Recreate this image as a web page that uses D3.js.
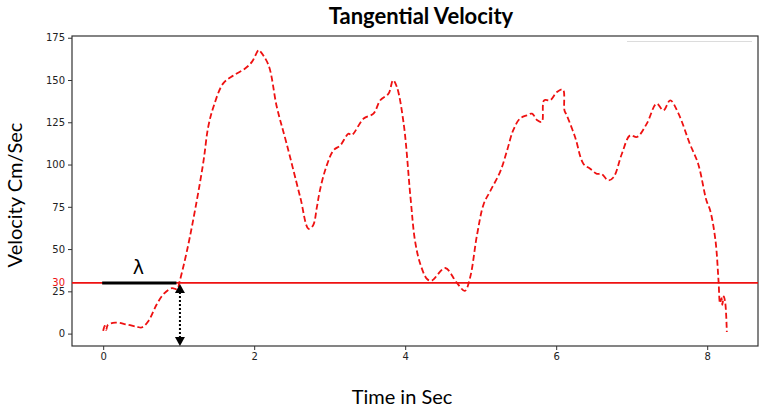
<!DOCTYPE html>
<html>
<head>
<meta charset="utf-8">
<script src="https://cdn.jsdelivr.net/npm/d3@7"></script>
<style>
  body { margin: 0; background: #fff; }
  svg { display: block; }
</style>
</head>
<body>
<svg id="chart" width="765" height="410"></svg>
<script>
// Data (time in s, velocity in cm/s)
const time = [0, 0.02, 0.04, 0.06, 0.16, 0.3, 0.45, 0.51, 0.6, 0.71, 0.8, 0.91, 0.98, 1.01,
  1.11, 1.24, 1.33, 1.39, 1.46, 1.59, 1.73, 1.88, 1.97, 2.06, 2.08, 2.19, 2.3, 2.43, 2.61,
  2.72, 2.78, 2.83, 2.87, 2.95, 3.05, 3.14, 3.25, 3.29, 3.45, 3.58, 3.67, 3.78, 3.84, 3.89,
  3.98, 4.07, 4.13, 4.2, 4.29, 4.35, 4.53, 4.68, 4.79, 4.86, 4.95, 5.04, 5.13, 5.26, 5.35,
  5.43, 5.52, 5.61, 5.68, 5.75, 5.81, 5.84, 5.92, 6.01, 6.09, 6.11, 6.14, 6.25, 6.36, 6.45,
  6.54, 6.6, 6.69, 6.76, 6.87, 6.98, 7.07, 7.2, 7.33, 7.42, 7.51, 7.62, 7.77, 7.88, 7.99,
  8.04, 8.11, 8.15, 8.17, 8.19, 8.2, 8.22, 8.24, 8.26];
const velocity = [1.6, 4.5, 2.2, 5, 6.5, 5.5, 4, 3.6, 7.5, 17.4, 23.4, 26.9, 26.3, 30.5,
  49, 78.7, 102.4, 122, 134, 148, 152.8, 156.8, 160.7, 167.7, 167, 158.8, 134, 112.3, 80.7,
  62, 64, 74.7, 84.6, 98, 108.4, 111.3, 118.3, 117.3, 127.2, 130.1, 138, 142, 149.9, 145.9,
  124.2, 80.7, 55, 41.2, 32.3, 31.3, 38.8, 30.3, 25.3, 33.2, 58, 76.7, 84.6, 96, 108.4,
  120.2, 127.2, 129.1, 130.1, 126.2, 125.2, 138, 138, 142.9, 144.4, 132, 129.1, 116.3, 100.5, 97.5,
  94.5, 94.5, 90.6, 92.5, 106.4, 117.3, 116.3, 124.2, 136, 132, 138, 130.1, 112.3, 100.5, 78.7,
  72.8, 55, 31.3, 18, 21, 17, 22, 18, 1];

const xTicks = [0, 2, 4, 6, 8];
const yTicks = [0, 25, 50, 75, 100, 125, 150, 175];
const threshold = 30;       // red reference line
const lambdaEnd = 1.01;     // time where curve crosses threshold

const data = time.map((t, i) => ({ t: t, v: velocity[i] }));

// Plot box
const box = { left: 72, right: 758, top: 36, bottom: 346 };

// matplotlib-like 5% margins around data
function padded(ext) {
  const m = (ext[1] - ext[0]) * 0.05;
  return [ext[0] - m, ext[1] + m];
}

const x = d3.scaleLinear()
  .domain(padded(d3.extent(time)))
  .range([box.left, box.right]);

const y = d3.scaleLinear()
  .domain(padded(d3.extent(velocity)))
  .range([box.bottom, box.top]);

const svg = d3.select("#chart");

// Title
svg.append("text")
  .attr("x", 421)
  .attr("y", 24)
  .attr("text-anchor", "middle")
  .attr("font-family", "Lato, 'Open Sans', sans-serif")
  .attr("font-weight", "bold")
  .attr("font-size", 22)
  .attr("fill", "#000")
  .text("Tangential Velocity");

// faint leftovers near the top
svg.append("line")
  .attr("x1", 627).attr("x2", 752)
  .attr("y1", 41.5).attr("y2", 41.5)
  .attr("stroke", "#dcdcdc")
  .attr("stroke-width", 1);

// Axes
const xAxis = svg.append("g")
  .attr("transform", `translate(0,${box.bottom})`)
  .call(d3.axisBottom(x).tickValues(xTicks).tickSize(4).tickPadding(3));

const yAxis = svg.append("g")
  .attr("transform", `translate(${box.left},0)`)
  .call(d3.axisLeft(y).tickValues(yTicks).tickSize(4).tickPadding(3));

[xAxis, yAxis].forEach(a => {
  a.select(".domain").remove();
  a.selectAll("line").attr("stroke", "#333");
  a.selectAll("text")
    .attr("font-family", "'DejaVu Sans', sans-serif")
    .attr("font-size", 10)
    .attr("fill", "#222");
});

// Frame (all four spines)
svg.append("rect")
  .attr("x", box.left)
  .attr("y", box.top)
  .attr("width", box.right - box.left)
  .attr("height", box.bottom - box.top)
  .attr("fill", "none")
  .attr("stroke", "#333")
  .attr("stroke-width", 1.2);

// Threshold line and its red tick label
svg.append("line")
  .attr("x1", box.left).attr("x2", box.right)
  .attr("y1", y(threshold)).attr("y2", y(threshold))
  .attr("stroke", "#ee1111")
  .attr("stroke-width", 1.8);

svg.append("text")
  .attr("x", box.left - 7)
  .attr("y", y(threshold))
  .attr("dy", "0.32em")
  .attr("text-anchor", "end")
  .attr("font-family", "'DejaVu Sans', sans-serif")
  .attr("font-size", 10)
  .attr("fill", "#ee1111")
  .text(threshold);

// Velocity curve
svg.append("path")
  .datum(data)
  .attr("fill", "none")
  .attr("stroke", "#ee1111")
  .attr("stroke-width", 1.8)
  .attr("stroke-dasharray", "6,3")
  .attr("d", d3.line()
    .x(d => x(d.t))
    .y(d => y(d.v))
    .curve(d3.curveCatmullRom.alpha(0.5)));

// Lambda segment
svg.append("line")
  .attr("x1", x(0) - 1).attr("x2", x(lambdaEnd) - 3)
  .attr("y1", y(threshold)).attr("y2", y(threshold))
  .attr("stroke", "#000")
  .attr("stroke-width", 3);

svg.append("text")
  .attr("x", x(lambdaEnd / 2) - 3)
  .attr("y", y(threshold) - 9)
  .attr("text-anchor", "middle")
  .attr("font-family", "'DejaVu Sans', sans-serif")
  .attr("font-size", 19)
  .attr("fill", "#000")
  .text("λ");

// Dotted double arrow from threshold down to the axis
const ax = x(lambdaEnd) + 0.5;
const yTop = y(threshold) + 1;
const yBot = box.bottom;
svg.append("line")
  .attr("x1", ax).attr("x2", ax)
  .attr("y1", yTop + 8).attr("y2", yBot - 8)
  .attr("stroke", "#000")
  .attr("stroke-width", 2)
  .attr("stroke-dasharray", "2,2");

svg.append("path")
  .attr("d", `M${ax - 5},${yTop + 9} L${ax + 5},${yTop + 9} L${ax},${yTop} Z`)
  .attr("fill", "#000");

svg.append("path")
  .attr("d", `M${ax - 5},${yBot - 9} L${ax + 5},${yBot - 9} L${ax},${yBot} Z`)
  .attr("fill", "#000");

// Axis titles
svg.append("text")
  .attr("x", (box.left + box.right) / 2 - 13)
  .attr("y", 404)
  .attr("text-anchor", "middle")
  .attr("font-family", "Lato, 'Open Sans', sans-serif")
  .attr("font-size", 20)
  .attr("fill", "#000")
  .text("Time in Sec");

svg.append("text")
  .attr("transform", "translate(22,195) rotate(-90)")
  .attr("text-anchor", "middle")
  .attr("font-family", "Lato, 'Open Sans', sans-serif")
  .attr("font-size", 20)
  .attr("fill", "#000")
  .text("Velocity Cm/Sec");
</script>
</body>
</html>
